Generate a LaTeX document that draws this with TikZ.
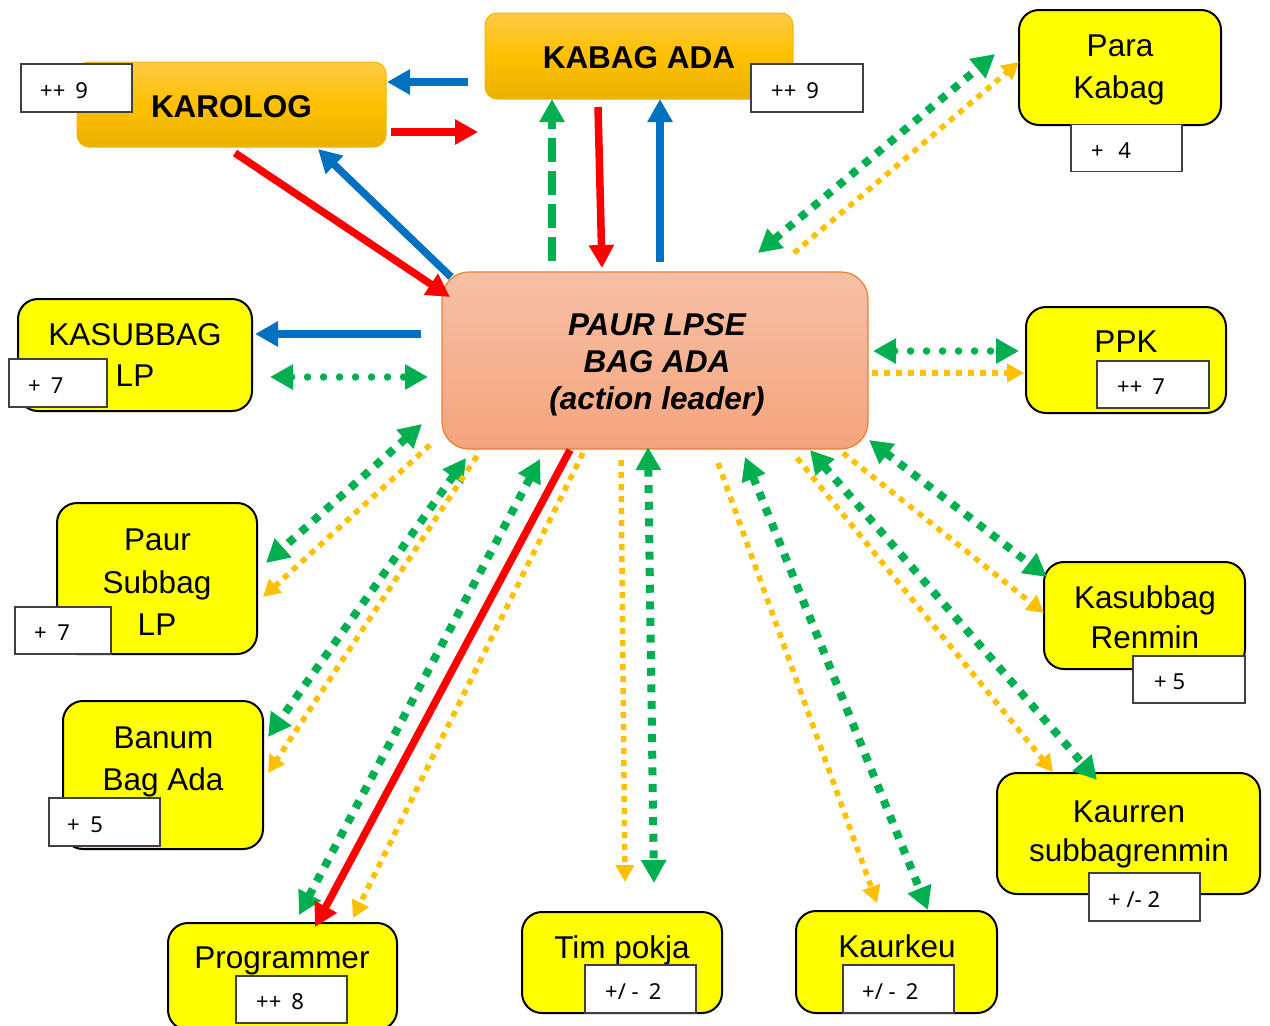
\documentclass[tikz,border=0pt]{standalone}
\usepackage{fontspec}
\setmainfont{Liberation Sans}
\newfontfamily\scorefont{Noto Sans}
\usetikzlibrary{arrows.meta}

\definecolor{cblue}{HTML}{0070C0}
\definecolor{cred}{HTML}{FF0000}
\definecolor{cgreen}{HTML}{00B050}
\definecolor{corange}{HTML}{FFC000}
\definecolor{cyellow}{HTML}{FFFF00}
\definecolor{goldtop}{HTML}{FFCA45}
\definecolor{goldmid}{HTML}{FFC000}
\definecolor{goldbot}{HTML}{E8B200}
\definecolor{goldline}{HTML}{F2B800}
\definecolor{leadtop}{HTML}{F6C0A6}
\definecolor{leadbot}{HTML}{F4A47C}
\definecolor{leadline}{HTML}{ED7D31}

\tikzset{
  gbox/.style={rounded corners=12pt, draw=goldline, line width=1pt,
    top color=goldtop, bottom color=goldbot, middle color=goldmid, inner sep=0pt},
  ybox/.style={rounded corners=20pt, draw=black, line width=2pt, fill=cyellow, inner sep=0pt},
  leadbox/.style={rounded corners=27pt, draw=leadline, line width=1.2pt,
    top color=leadtop, bottom color=leadbot, inner sep=0pt},
  sbox/.style={draw=black!75, fill=white, line width=1.3pt, inner sep=0pt},
  lbl/.style={font=\fontsize{31.5}{41}\selectfont, inner sep=0pt, anchor=base},
  blbl/.style={lbl, font=\fontsize{31.5}{41}\selectfont\bfseries},
  ilbl/.style={lbl, font=\fontsize{31.5}{41}\selectfont\bfseries\itshape},
  stxt/.style={font=\scorefont\fontsize{22}{26}\selectfont, anchor=base west, inner sep=0pt},
  bigtip/.tip={Triangle[length=23pt,width=24pt]},
  smalltip/.tip={Triangle[length=17pt,width=18pt]},
  solidarr/.style={line width=7.5pt, -bigtip},
  gdash/.style={cgreen, line width=8pt, dash pattern=on 24pt off 9pt, -bigtip},
  gdots/.style={cgreen, line width=8pt, dash pattern=on 8pt off 8.6pt, bigtip-bigtip},
  grdots/.style={cgreen, line width=7.5pt, line cap=round, dash pattern=on 0pt off 16pt, bigtip-bigtip},
  odots/.style={corange, line width=5.5pt, dash pattern=on 6pt off 6pt, -smalltip},
}

\begin{document}
\begin{tikzpicture}[x=1pt,y=-1pt]
\useasboundingbox (0,0) rectangle (1270,1026);

% main boxes
\node[gbox, minimum width=309pt, minimum height=85pt] (karolog) at (231.5,104.5) {};
\node[gbox, minimum width=308pt, minimum height=86pt] (kabag) at (639,56) {};
\node[ybox, minimum width=202pt, minimum height=115pt] (para) at (1120,67.5) {};
\node[ybox, minimum width=234pt, minimum height=112pt] (kasubbaglp) at (135,355) {};
\node[ybox, minimum width=200pt, minimum height=151pt] (paur) at (157,578.5) {};
\node[ybox, minimum width=200pt, minimum height=148pt] (banum) at (163,775) {};
\node[ybox, minimum width=229pt, minimum height=107pt] (prog) at (282.5,976.5) {};
\node[ybox, minimum width=200pt, minimum height=101pt] (tim) at (622,962.5) {};
\node[ybox, minimum width=201pt, minimum height=102pt] (kaurkeu) at (896.5,962) {};
\node[ybox, minimum width=200pt, minimum height=106pt] (ppk) at (1126,360) {};
\node[ybox, minimum width=201pt, minimum height=107pt] (renmin) at (1144.5,615.5) {};
\node[ybox, minimum width=263pt, minimum height=121pt] (kaurren) at (1128.5,833.5) {};
\node[leadbox, minimum width=426pt, minimum height=177pt] (lead) at (655,360.5) {};

% box texts
\node[blbl] (t-karolog) at (231.5,117) {KAROLOG};
\node[blbl] (t-kabag) at (639,68) {KABAG ADA};
\node[lbl] (t-para1) at (1120,56) {Para};
\node[lbl] (t-para2) at (1119,98) {Kabag};
\node[lbl] (t-ksl1) at (135,345) {KASUBBAG};
\node[lbl] (t-ksl2) at (135,386) {LP};
\node[lbl] (t-paur1) at (157.5,550) {Paur};
\node[lbl] (t-paur2) at (157,593) {Subbag};
\node[lbl] (t-paur3) at (157,635) {LP};
\node[lbl] (t-banum1) at (163.5,748) {Banum};
\node[lbl] (t-banum2) at (163,790) {Bag Ada};
\node[lbl] (t-prog) at (282,968) {Programmer};
\node[lbl] (t-tim) at (622,958) {Tim pokja};
\node[lbl] (t-kaurkeu) at (897,957) {Kaurkeu};
\node[lbl] (t-ppk) at (1126,352) {PPK};
\node[lbl] (t-renmin1) at (1145,608) {Kasubbag};
\node[lbl] (t-renmin2) at (1145,648) {Renmin};
\node[lbl] (t-kaurren1) at (1129,822) {Kaurren};
\node[lbl] (t-kaurren2) at (1129,861) {subbagrenmin};
\node[ilbl] (t-lead1) at (657,335) {PAUR LPSE};
\node[ilbl] (t-lead2) at (657,372) {BAG ADA};
\node[ilbl] (t-lead3) at (657,409) {(action leader)};

% score boxes
\node[sbox, minimum width=111pt, minimum height=48pt] (s1) at (76.5,88) {};
\node[stxt] at (40,98) {++\hspace{10pt}9};
\node[sbox, minimum width=112pt, minimum height=48pt] (s2) at (807,88) {};
\node[stxt] at (771,98) {++\hspace{10pt}9};
\node[sbox, minimum width=111pt, minimum height=47pt] (s3) at (1126.5,148) {};
\node[stxt] at (1091,158) {+\hspace{14.5pt}4};
\node[sbox, minimum width=98pt, minimum height=48pt] (s4) at (58,383) {};
\node[stxt] at (28,393) {+\hspace{10pt}7};
\node[sbox, minimum width=96pt, minimum height=47pt] (s5) at (63,630.5) {};
\node[stxt] at (34,640) {+\hspace{10.5pt}7};
\node[sbox, minimum width=111pt, minimum height=48pt] (s6) at (104.5,822) {};
\node[stxt] at (67,832) {+\hspace{10.5pt}5};
\node[sbox, minimum width=111pt, minimum height=47pt] (s7) at (291.5,999.5) {};
\node[stxt] at (256,1009) {++\hspace{10pt}8};
\node[sbox, minimum width=111pt, minimum height=48pt] (s8) at (640.5,989) {};
\node[stxt] at (605,999) {+/ -\hspace{10pt}2};
\node[sbox, minimum width=111pt, minimum height=48pt] (s9) at (898.5,989) {};
\node[stxt] at (862,999) {+/ -\hspace{10pt}2};
\node[sbox, minimum width=112pt, minimum height=47pt] (s10) at (1153,384.5) {};
\node[stxt] at (1117,394) {++\hspace{10pt}7};
\node[sbox, minimum width=112pt, minimum height=47pt] (s11) at (1189,679.5) {};
\node[stxt] at (1154,689) {+ 5};
\node[sbox, minimum width=111pt, minimum height=48pt] (s12) at (1144.5,897) {};
\node[stxt] at (1108,907) {+ /- 2};

% connector end points
\coordinate (kb-w) at (468,82);   \coordinate (kr-e) at (387,82);
\coordinate (kr-e2) at (391,132); \coordinate (kb-w2) at (478,132);
\coordinate (kr-s) at (235,153);  \coordinate (ld-nw) at (450,297);
\coordinate (ld-nw2) at (451,277);\coordinate (kr-s2) at (318,149);
\coordinate (ld-n1) at (552,261); \coordinate (kb-s1) at (552,99);
\coordinate (kb-s2) at (598,107); \coordinate (ld-n2) at (602,268);
\coordinate (ld-n3) at (660,262); \coordinate (kb-s3) at (660,99);
\coordinate (ld-ne1) at (758,253);\coordinate (pa-w1) at (995,54);
\coordinate (ld-ne2) at (794,253);\coordinate (pa-w2) at (1019,62);
\coordinate (ld-w1) at (421,334); \coordinate (ks-e1) at (255,334);
\coordinate (ks-e2) at (270,377); \coordinate (ld-w2) at (428,377);
\coordinate (ld-sw1) at (422,424);\coordinate (pr-e1) at (266,563);
\coordinate (ld-sw2) at (430,445);\coordinate (pr-e2) at (263,597);
\coordinate (ld-sw3) at (466,458);\coordinate (bn-e1) at (268,737);
\coordinate (ld-sw4) at (477,456);\coordinate (bn-e2) at (268,773);
\coordinate (ld-s1) at (540,459); \coordinate (pg-n1) at (299,915);
\coordinate (ld-s2) at (570,450); \coordinate (pg-n2) at (315,927);
\coordinate (ld-s3) at (583,453); \coordinate (pg-n3) at (353,918);
\coordinate (ld-s4) at (621,460); \coordinate (tm-n1) at (625,882);
\coordinate (ld-s5) at (648,447); \coordinate (tm-n2) at (654,883);
\coordinate (ld-s6) at (718,463); \coordinate (kk-n1) at (877,903);
\coordinate (ld-s7) at (745,457); \coordinate (kk-n2) at (928,910);
\coordinate (ld-e1) at (873,351); \coordinate (pp-w1) at (1019,351);
\coordinate (ld-e2) at (872,373); \coordinate (pp-w2) at (1024,373);
\coordinate (ld-se1) at (869,440);\coordinate (rm-w1) at (1047,577);
\coordinate (ld-se2) at (843,453);\coordinate (rm-w2) at (1044,613);
\coordinate (ld-se3) at (797,458);\coordinate (ku-n1) at (1053,772);
\coordinate (ld-se4) at (810,450);\coordinate (ku-n2) at (1097,780);

% connectors
\draw[solidarr, cblue] (kb-w) -- (kr-e);
\draw[solidarr, cred] (kr-e2) -- (kb-w2);
\draw[solidarr, cred] (kr-s) -- (ld-nw);
\draw[solidarr, cblue] (ld-nw2) -- (kr-s2);
\draw[gdash] (ld-n1) -- (kb-s1);
\draw[solidarr, cred] (kb-s2) -- (ld-n2);
\draw[solidarr, cblue] (ld-n3) -- (kb-s3);
\draw[gdots] (ld-ne1) -- (pa-w1);
\draw[odots] (ld-ne2) -- (pa-w2);
\draw[solidarr, cblue] (ld-w1) -- (ks-e1);
\draw[grdots] (ks-e2) -- (ld-w2);
\draw[gdots] (ld-sw1) -- (pr-e1);
\draw[odots] (ld-sw2) -- (pr-e2);
\draw[gdots] (ld-sw3) -- (bn-e1);
\draw[odots] (ld-sw4) -- (bn-e2);
\draw[gdots] (ld-s1) -- (pg-n1);
\draw[solidarr, cred] (ld-s2) -- (pg-n2);
\draw[odots] (ld-s3) -- (pg-n3);
\draw[odots] (ld-s4) -- (tm-n1);
\draw[gdots] (ld-s5) -- (tm-n2);
\draw[odots] (ld-s6) -- (kk-n1);
\draw[gdots] (ld-s7) -- (kk-n2);
\draw[grdots] (ld-e1) -- (pp-w1);
\draw[odots] (ld-e2) -- (pp-w2);
\draw[gdots] (ld-se1) -- (rm-w1);
\draw[odots] (ld-se2) -- (rm-w2);
\draw[odots] (ld-se3) -- (ku-n1);
\draw[gdots] (ld-se4) -- (ku-n2);
\end{tikzpicture}
\end{document}
